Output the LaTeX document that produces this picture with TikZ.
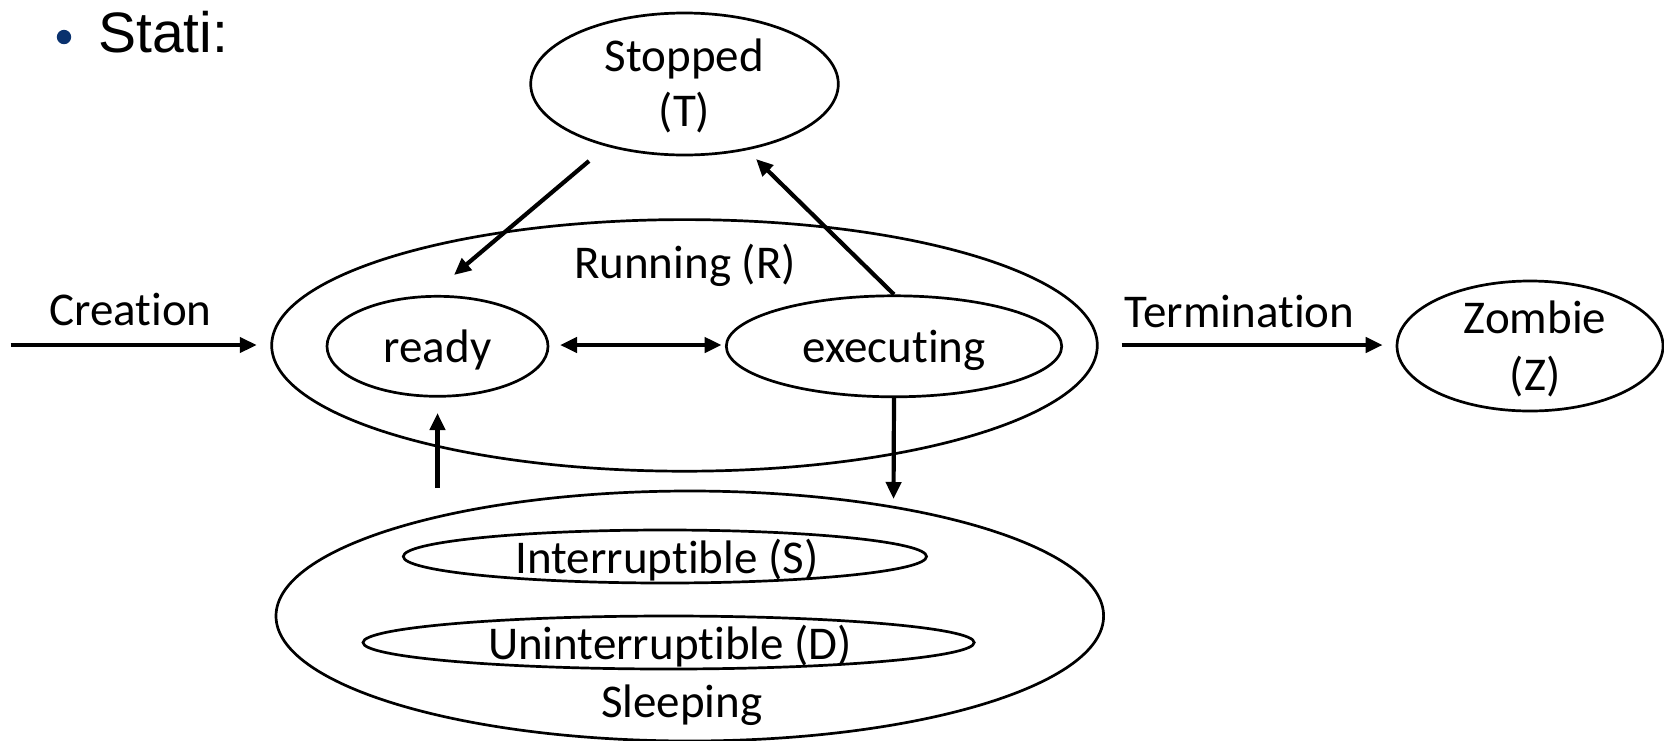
\documentclass[tikz,border=0pt]{standalone}
\usepackage{fontspec}
\setmainfont{Carlito}[Ligatures=NoCommon]
\newfontfamily\arialfont{Liberation Sans}
\usetikzlibrary{shapes.geometric,arrows.meta}
\definecolor{bulletblue}{RGB}{10,50,110}
\begin{document}
\begin{tikzpicture}[x=0.5pt,y=-0.5pt,
  ell/.style={draw, ellipse, inner sep=0pt, line width=1.35pt},
  txt/.style={font=\fontsize{23.5}{28}\selectfont, inner sep=0pt, anchor=base},
  arr/.style={line width=2.1pt, -{Triangle[length=8.5pt,width=7.5pt]}},
  darr/.style={line width=2.1pt, {Triangle[length=8.5pt,width=7.5pt]}-{Triangle[length=8.5pt,width=7.5pt]}}]
\useasboundingbox (0,0) rectangle (1664,740);

% title
\fill[bulletblue] (64,37) circle (3.6pt);
\node[anchor=base west, inner sep=0pt, font=\arialfont\fontsize{28.5}{34}\selectfont] (title) at (98,52) {Stati:};

% ellipses
\node[ell, minimum width=153.8pt, minimum height=71pt] (stopped) at (684.5,84) {};
\node[ell, minimum width=412.8pt, minimum height=125.8pt] (running) at (684.5,345.4) {};
\node[ell, minimum width=110.5pt, minimum height=50pt] (ready) at (437.5,346.3) {};
\node[ell, minimum width=167.7pt, minimum height=50.5pt] (executing) at (894,346.3) {};
\node[ell, minimum width=133pt, minimum height=65pt] (zombie) at (1530,346) {};
\node[ell, minimum width=413.8pt, minimum height=125pt] (sleeping) at (689.8,616) {};
\node[ell, minimum width=261.6pt, minimum height=26.5pt] (interr) at (664.9,556.5) {};
\node[ell, minimum width=305.6pt, minimum height=26.5pt] (uninterr) at (668.6,642.5) {};

% texts
\node[txt] (tstopped) at (684.5,71) {Stopped};
\node[txt] (tT) at (684.5,126) {(T)};
\node[txt] (trunning) at (685,278) {Running (R)};
\node[txt] (tready) at (437.5,362) {ready};
\node[txt] (texec) at (894,362) {executing};
\node[txt] (tcreation) at (130.5,325) {Creation};
\node[txt] (tterm) at (1239.5,327) {Termination};
\node[txt] (tzombie) at (1535,333) {Zombie};
\node[txt] (tZ) at (1535,390) {(Z)};
\node[txt] (tinterr) at (667,573) {Interruptible (S)};
\node[txt] (tuninterr) at (670,659) {Uninterruptible (D)};
\node[txt] (tsleeping) at (681.8,717) {Sleeping};

% connector end points
\coordinate (cstart) at (10.6,345);
\coordinate (cend) at (256.8,345);
\coordinate (tstart) at (1121.7,345);
\coordinate (tend) at (1382.7,345);
\coordinate (sr1) at (589,161);
\coordinate (sr2) at (454,275);
\coordinate (es2) at (756,159);
\coordinate (rd1) at (560,345);
\coordinate (rd2) at (721.6,345);
\coordinate (down2) at (893.5,499);
\coordinate (up1) at (437.5,488);
\coordinate (up2) at (437.5,413);

% connectors
\draw[arr] (cstart) -- (cend);
\draw[arr] (tstart) -- (tend);
\draw[arr] (sr1) -- (sr2);
\draw[arr] (executing.north) -- (es2);
\draw[darr] (rd1) -- (rd2);
\draw[arr] (executing.south) -- (down2);
\draw[arr] (up1) -- (up2);
\end{tikzpicture}
\end{document}
